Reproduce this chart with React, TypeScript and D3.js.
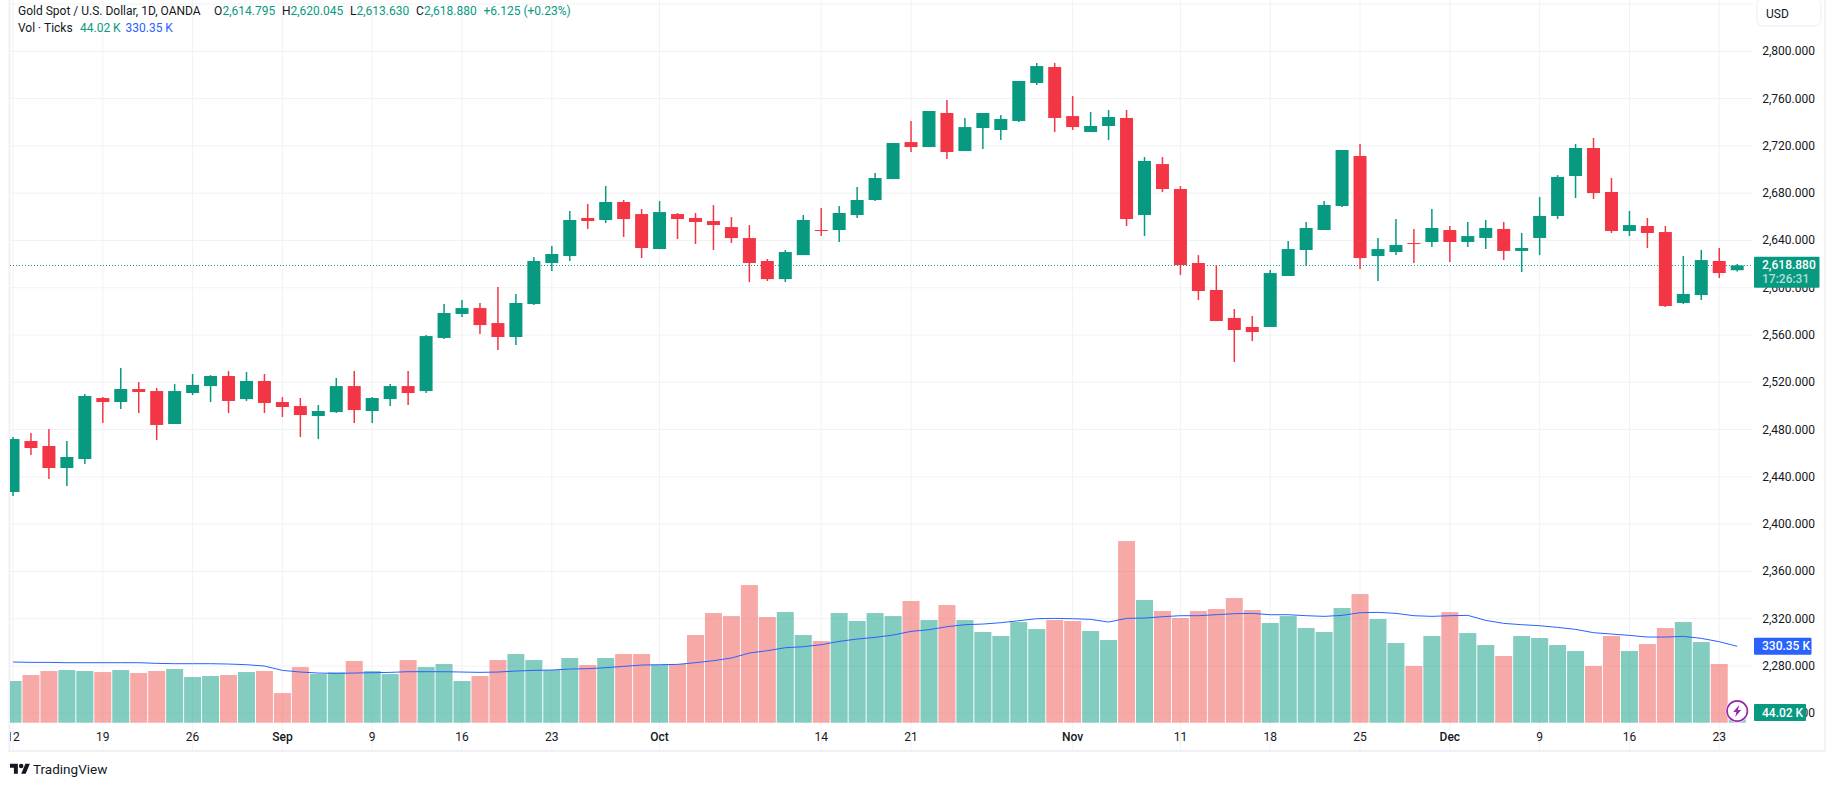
import * as d3 from 'd3';

const W = 1835;
const H = 786;

// daily candles, Aug 12 to Dec 24
const opens = [
  2427.2, 2470.3, 2466.1, 2447.5, 2455.1, 2506.7, 2503.3, 2514.3, 2512.6, 2484.7,
  2510.9, 2516.8, 2525.3, 2505.8, 2521.1, 2503.3, 2499.9, 2491.5, 2494.8, 2516.8,
  2495.7, 2505.8, 2516.8, 2512.6, 2557.5, 2577.8, 2582.8, 2570.1, 2558.3, 2586.2,
  2620.9, 2626.8, 2659.0, 2657.3, 2672.5, 2662.3, 2632.7, 2662.3, 2659.0, 2656.4,
  2651.3, 2642.0, 2622.6, 2607.3, 2627.6, 2648.8, 2648.8, 2661.5, 2674.2, 2691.9,
  2723.2, 2719.0, 2747.8, 2715.6, 2735.1, 2733.4, 2741.0, 2773.2, 2786.7, 2745.2,
  2731.7, 2736.8, 2743.6, 2661.5, 2704.6, 2683.5, 2620.9, 2598.1, 2574.4, 2566.8,
  2566.8, 2609.9, 2631.9, 2648.8, 2669.1, 2711.4, 2626.8, 2630.2, 2637.8, 2638.7,
  2648.8, 2638.7, 2642.1, 2649.7, 2631.1, 2642.1, 2660.7, 2694.5, 2718.2, 2681.0,
  2648.0, 2652.2, 2647.1, 2587.1, 2593.8, 2622.6, 2614.795,
];
const highs = [
  2473.7, 2477.1, 2480.5, 2470.3, 2510.1, 2507.5, 2532.1, 2520.2, 2515.2, 2518.5,
  2527.0, 2526.1, 2529.5, 2528.7, 2527.0, 2507.5, 2506.7, 2500.8, 2523.6, 2529.5,
  2507.5, 2518.5, 2529.5, 2560.0, 2586.2, 2589.6, 2587.1, 2600.6, 2594.7, 2626.0,
  2635.3, 2664.9, 2670.8, 2686.0, 2674.2, 2666.6, 2673.3, 2663.2, 2663.2, 2670.0,
  2659.8, 2653.0, 2624.3, 2631.9, 2661.5, 2667.4, 2669.1, 2685.2, 2697.0, 2722.4,
  2741.0, 2749.5, 2758.8, 2743.6, 2747.8, 2746.1, 2774.9, 2790.1, 2790.1, 2762.2,
  2748.6, 2750.3, 2750.3, 2710.6, 2710.6, 2686.0, 2627.6, 2619.2, 2582.0, 2576.1,
  2615.0, 2639.5, 2655.6, 2673.4, 2716.5, 2721.6, 2642.1, 2658.1, 2649.7, 2666.6,
  2652.2, 2655.6, 2657.3, 2655.6, 2646.3, 2676.7, 2695.3, 2721.6, 2726.7, 2692.8,
  2664.9, 2659.0, 2652.2, 2626.8, 2631.9, 2633.6, 2620.045,
];
const lows = [
  2423.8, 2458.5, 2438.2, 2432.2, 2450.9, 2485.5, 2497.4, 2494.0, 2471.2, 2484.7,
  2509.2, 2503.3, 2494.0, 2504.2, 2494.0, 2490.6, 2473.7, 2472.0, 2494.0, 2485.5,
  2485.5, 2499.9, 2500.8, 2510.9, 2556.6, 2575.2, 2560.8, 2547.3, 2551.5, 2585.4,
  2614.1, 2622.6, 2649.7, 2654.7, 2642.9, 2625.1, 2632.7, 2641.2, 2637.0, 2631.9,
  2637.8, 2604.8, 2605.7, 2604.8, 2627.6, 2643.7, 2638.6, 2659.0, 2673.3, 2691.9,
  2714.8, 2719.0, 2708.9, 2715.6, 2717.3, 2724.9, 2740.2, 2771.5, 2731.7, 2733.4,
  2731.7, 2724.9, 2652.2, 2643.7, 2680.9, 2610.7, 2589.6, 2571.8, 2537.1, 2554.9,
  2566.8, 2609.9, 2618.4, 2648.8, 2668.3, 2615.8, 2605.7, 2627.7, 2620.9, 2634.4,
  2621.7, 2634.4, 2632.7, 2623.4, 2613.3, 2627.7, 2658.1, 2675.9, 2675.0, 2646.3,
  2643.7, 2633.6, 2583.7, 2586.2, 2589.6, 2608.2, 2613.63,
];
const closes = [
  2472.0, 2464.4, 2447.5, 2456.8, 2508.4, 2503.3, 2514.3, 2511.8, 2483.9, 2512.6,
  2517.7, 2525.3, 2504.2, 2521.1, 2502.5, 2499.1, 2492.3, 2495.7, 2516.8, 2496.5,
  2506.7, 2516.8, 2510.9, 2559.1, 2578.6, 2582.8, 2568.4, 2558.3, 2587.1, 2622.6,
  2628.5, 2657.3, 2656.4, 2672.5, 2658.1, 2633.6, 2664.0, 2658.1, 2655.6, 2653.0,
  2642.0, 2620.9, 2607.3, 2630.2, 2657.3, 2648.0, 2663.2, 2674.2, 2692.8, 2722.4,
  2719.0, 2749.5, 2714.8, 2735.9, 2747.8, 2742.7, 2774.9, 2787.5, 2743.6, 2735.9,
  2736.8, 2744.4, 2658.1, 2707.2, 2683.5, 2619.2, 2597.2, 2571.8, 2564.2, 2562.5,
  2612.4, 2632.7, 2650.5, 2670.0, 2716.5, 2625.1, 2632.7, 2636.1, 2637.0, 2650.5,
  2638.7, 2643.7, 2650.5, 2631.1, 2633.6, 2660.7, 2693.7, 2718.2, 2680.1, 2648.0,
  2653.0, 2646.3, 2584.5, 2594.7, 2623.4, 2612.4, 2618.88,
];

// ticks volume in K
const volumes = [
  180.1, 206.1, 223.4, 227.7, 223.4, 219.0, 227.7, 214.7, 223.4, 232.0,
  197.4, 201.7, 206.1, 219.0, 223.4, 128.2, 240.6, 210.4, 217.6, 266.6,
  223.4, 210.4, 270.9, 240.6, 253.6, 180.1, 201.7, 270.9, 296.8, 270.9,
  227.7, 279.6, 249.3, 279.6, 296.8, 296.8, 249.3, 253.6, 379.0, 474.1,
  461.1, 595.1, 456.8, 478.4, 379.0, 353.0, 474.1, 439.5, 474.1, 461.1,
  526.0, 443.8, 508.7, 443.8, 392.0, 374.7, 435.2, 404.9, 443.8, 439.5,
  396.3, 357.4, 785.3, 530.3, 482.7, 452.5, 482.7, 491.4, 538.9, 487.1,
  430.9, 461.1, 409.2, 392.0, 495.7, 556.2, 448.2, 344.4, 245.0, 374.7,
  478.4, 387.6, 335.8, 288.2, 374.7, 366.0, 335.8, 309.8, 245.0, 374.7,
  309.8, 340.1, 409.2, 435.2, 348.7, 253.6, 44.02,
];
const volumeMA = [
  262.3, 260.8, 260.8, 259.4, 259.4, 259.4, 259.4, 259.4, 256.5, 255.1,
  255.1, 255.1, 253.6, 250.7, 245.0, 226.2, 219.0, 214.7, 213.3, 214.7,
  216.2, 217.6, 220.5, 220.5, 220.5, 219.0, 217.6, 219.0, 223.4, 226.2,
  227.7, 232.0, 233.4, 237.8, 243.5, 249.3, 250.7, 252.2, 259.4, 268.0,
  279.6, 301.2, 311.3, 324.2, 328.5, 337.2, 351.6, 361.7, 368.9, 379.0,
  394.8, 402.0, 415.0, 423.7, 426.5, 432.3, 440.9, 449.6, 451.0, 449.6,
  446.7, 435.2, 451.0, 452.5, 458.2, 462.6, 462.6, 466.9, 471.2, 472.6,
  466.9, 466.9, 462.6, 459.7, 464.0, 475.5, 477.0, 472.6, 462.6, 459.7,
  462.6, 464.0, 442.4, 429.4, 423.7, 419.3, 412.1, 403.5, 389.1, 383.3,
  377.5, 370.3, 370.3, 373.2, 364.6, 350.2, 330.35,
];

const priceTicks = d3.range(2240, 2841, 40);
const xTickLabels = ['12', '19', '26', 'Sep', '9', '16', '23', 'Oct', '14', '21', 'Nov', '11', '18', '25', 'Dec', '9', '16', '23'];
const xTickBars = [0, 5, 10, 15, 20, 25, 30, 36, 45, 50, 59, 65, 70, 75, 80, 85, 90, 95];
const monthLabels = ['Sep', 'Oct', 'Nov', 'Dec'];

const UP = '#089981';
const DOWN = '#F23645';
const VOL_UP = 'rgba(8,153,129,0.5)';
const VOL_DOWN = 'rgba(239,83,80,0.5)';
const BLUE = '#2962FF';
const INK = '#131722';
const GRID = '#f2f2f3';
const EDGE = '#f0f0f6';
const FONT = 'Roboto, sans-serif';

const paneLeft = 10;
const paneRight = 1753;
const paneBottom = 750;
const lastPrice = closes[closes.length - 1];

const x = d3.scaleLinear().domain([0, 96]).range([13, 1737.2]);
const y = d3.scaleLinear().domain([2280, 2800]).range([666, 51.3]);
const yVol = d3.scaleLinear().domain([0, 1000]).range([722.7, 491.4]);

const maPath = d3
  .line<number>()
  .x((_, i) => x(i))
  .y((d) => yVol(d))(volumeMA);

function fmt(p: number) {
  return d3.format(',.3f')(p);
}

export default function App() {
  return (
    <svg
      width={W}
      height={H}
      style={{ position: 'absolute', left: 0, top: 0, display: 'block', background: '#fff', fontFamily: FONT }}
    >
      <defs>
        <clipPath id="pane">
          <rect x={paneLeft} y={0} width={paneRight - paneLeft} height={paneBottom} />
        </clipPath>
        <clipPath id="timeAxis">
          <rect x={paneLeft} y={paneBottom - 30} width={paneRight - paneLeft} height={30} />
        </clipPath>
      </defs>

      {/* grid */}
      {priceTicks.map((p) => (
        <line key={p} x1={paneLeft} x2={paneRight} y1={y(p)} y2={y(p)} stroke={GRID} strokeWidth={1} />
      ))}
      {xTickBars.map((b) => (
        <line key={b} x1={x(b)} x2={x(b)} y1={0} y2={paneBottom} stroke={GRID} strokeWidth={1} />
      ))}

      {/* frame */}
      <rect x={paneLeft - 1.5} y={0} width={2} height={paneBottom + 2} fill={EDGE} />
      <rect x={paneLeft - 1.5} y={paneBottom} width={1824 - paneLeft + 2.5} height={2} fill={EDGE} />
      <rect x={1824} y={0} width={1.5} height={paneBottom + 2} fill={EDGE} />

      <g clipPath="url(#pane)">
        {/* volume */}
        {volumes.map((v, i) => (
          <rect
            key={i}
            x={x(i) - 8.5}
            y={yVol(v)}
            width={17}
            height={yVol(0) - yVol(v)}
            fill={closes[i] >= opens[i] ? VOL_UP : VOL_DOWN}
          />
        ))}

        <line
          x1={paneLeft}
          x2={paneRight}
          y1={y(lastPrice)}
          y2={y(lastPrice)}
          stroke={UP}
          strokeWidth={1}
          strokeDasharray="1 2"
          shapeRendering="crispEdges"
        />

        {/* candles */}
        {opens.map((o, i) => {
          const c = closes[i];
          const color = c >= o ? UP : DOWN;
          const top = y(Math.max(o, c));
          const bottom = y(Math.min(o, c));
          return (
            <g key={i}>
              <line x1={x(i)} x2={x(i)} y1={y(highs[i])} y2={y(lows[i])} stroke={color} strokeWidth={1.5} />
              <rect x={x(i) - 6.5} y={top} width={13} height={Math.max(bottom - top, 1)} fill={color} />
            </g>
          );
        })}

        <path d={maPath ?? ''} fill="none" stroke={BLUE} strokeWidth={1} />
      </g>

      {/* legend */}
      <g fontSize={12} dominantBaseline="central">
        <text x={18} y={11} fill={INK}>Gold Spot / U.S. Dollar, 1D, OANDA</text>
        <text x={214} y={11} fill={INK}>O</text>
        <text x={222.5} y={11} fill={UP}>{fmt(opens[96])}</text>
        <text x={282} y={11} fill={INK}>H</text>
        <text x={290.5} y={11} fill={UP}>{fmt(highs[96])}</text>
        <text x={350} y={11} fill={INK}>L</text>
        <text x={356.5} y={11} fill={UP}>{fmt(lows[96])}</text>
        <text x={416} y={11} fill={INK}>C</text>
        <text x={424} y={11} fill={UP}>{fmt(closes[96])}</text>
        <text x={483.5} y={11} fill={UP}>+6.125 (+0.23%)</text>
        <text x={18} y={28} fill={INK}>Vol · Ticks</text>
        <text x={80} y={28} fill={UP}>44.02 K</text>
        <text x={125.5} y={28} fill={BLUE}>330.35 K</text>
      </g>

      {/* price axis */}
      <g fontSize={12} fill={INK} dominantBaseline="central">
        {priceTicks
          .filter((p) => p < 2840)
          .map((p) => (
            <text key={p} x={1815} y={y(p)} textAnchor="end">
              {fmt(p)}
            </text>
          ))}
      </g>
      <rect x={1757} y={-2} width={64} height={28} rx={6} fill="#fff" stroke="#f0f3fa" strokeWidth={1.5} />
      <text x={1766} y={13.5} fontSize={12} fill={INK} dominantBaseline="central">USD</text>

      {/* last value labels */}
      <rect x={1754} y={256.7} width={65.5} height={31} rx={1} fill={UP} />
      <text x={1762} y={y(lastPrice)} fontSize={12} fontWeight={500} fill="#fff" dominantBaseline="central">{fmt(lastPrice)}</text>
      <text x={1762} y={279} fontSize={12} fontWeight={500} fill="#fff" fillOpacity={0.7} dominantBaseline="central">17:26:31</text>

      <rect x={1754} y={yVol(330.35) - 8.5} width={57.5} height={17} rx={1} fill={BLUE} />
      <text x={1762} y={yVol(330.35)} fontSize={12} fontWeight={500} fill="#fff" dominantBaseline="central">330.35 K</text>

      <rect x={1754} y={704} width={52} height={17} rx={1} fill={UP} />
      <text x={1762} y={712.5} fontSize={12} fontWeight={500} fill="#fff" dominantBaseline="central">44.02 K</text>

      {/* lightning badge */}
      <circle cx={x(96)} cy={711} r={11.5} fill="#fff" />
      <circle cx={x(96)} cy={711} r={10.2} fill="#fff" stroke="#9C27B0" strokeWidth={1.7} />
      <path
        transform={`translate(${x(96)},711)`}
        d="M2,-6 L-4,1 L-0.8,1 L-2,6 L4,-1 L0.8,-1 Z"
        fill="#9C27B0"
      />

      {/* time axis */}
      <g clipPath="url(#timeAxis)" fontSize={12} fill={INK} textAnchor="middle" dominantBaseline="central">
        {xTickLabels.map((t, i) => (
          <text key={i} x={x(xTickBars[i])} y={736.7} fontWeight={monthLabels.includes(t) ? 500 : 400}>
            {t}
          </text>
        ))}
      </g>

      {/* logo */}
      <g transform="translate(10,761.5) scale(0.56)" fill={INK}>
        <path d="M14 22H7V11H0V4h14v18zM28 22h-8l7.5-18h8L28 22z" />
        <circle cx={20} cy={8} r={4} />
      </g>
      <text x={33} y={768.7} fontSize={13.5} fill={INK} dominantBaseline="central">TradingView</text>
    </svg>
  );
}
